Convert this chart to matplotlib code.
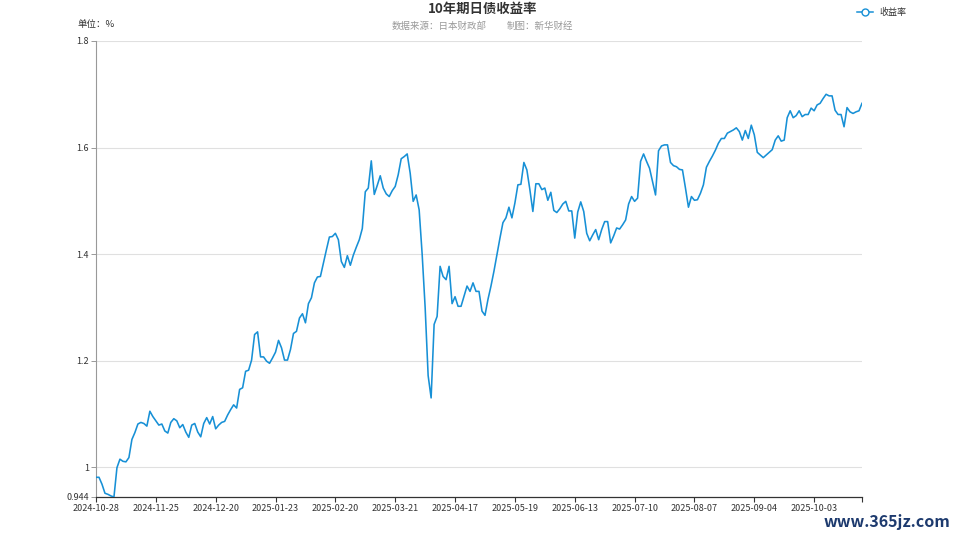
import matplotlib
matplotlib.use('Agg')
import matplotlib.pyplot as plt
import numpy as np

plt.rcParams['font.family'] = ['Noto Sans CJK SC', 'DejaVu Sans']

# ---------------- data ----------------
title = "10年期日债收益率"
subtitle_source = "数据来源：日本财政部"
subtitle_maker = "制图：新华财经"
unit_label = "单位：%"
series_name = "收益率"
watermark = "www.365jz.com"

tick_labels = ["2024-10-28", "2024-11-25", "2024-12-20", "2025-01-23", "2025-02-20",
               "2025-03-21", "2025-04-17", "2025-05-19", "2025-06-13", "2025-07-10",
               "2025-08-07", "2025-09-04", "2025-10-03"]
tick_every = 20

y_ticks = [0.944, 1.0, 1.2, 1.4, 1.6, 1.8]
y_tick_labels = ["0.944", "1", "1.2", "1.4", "1.6", "1.8"]

yield_values = [
    0.981, 0.981, 0.968, 0.951, 0.949, 0.946, 0.944, 0.999, 1.015, 1.011,
    1.010, 1.018, 1.052, 1.065, 1.081, 1.084, 1.082, 1.077, 1.105, 1.095,
    1.087, 1.079, 1.081, 1.068, 1.064, 1.084, 1.091, 1.087, 1.074, 1.080,
    1.066, 1.056, 1.079, 1.082, 1.066, 1.057, 1.082, 1.093, 1.081, 1.095,
    1.072, 1.079, 1.084, 1.086, 1.098, 1.108, 1.117, 1.111, 1.146, 1.149,
    1.180, 1.182, 1.201, 1.249, 1.254, 1.207, 1.207, 1.199, 1.195, 1.205,
    1.216, 1.238, 1.224, 1.201, 1.201, 1.221, 1.251, 1.255, 1.280, 1.288,
    1.271, 1.307, 1.318, 1.346, 1.357, 1.358, 1.383, 1.408, 1.432, 1.433,
    1.439, 1.427, 1.386, 1.375, 1.397, 1.379, 1.398, 1.413, 1.427, 1.448,
    1.517, 1.524, 1.575, 1.512, 1.529, 1.547, 1.524, 1.513, 1.508, 1.519,
    1.527, 1.549, 1.579, 1.583, 1.588, 1.552, 1.499, 1.511, 1.483, 1.400,
    1.300, 1.172, 1.130, 1.268, 1.283, 1.377, 1.358, 1.352, 1.377, 1.307,
    1.320, 1.302, 1.302, 1.321, 1.340, 1.330, 1.346, 1.330, 1.330, 1.293,
    1.285, 1.315, 1.340, 1.368, 1.399, 1.430, 1.459, 1.468, 1.488, 1.468,
    1.496, 1.530, 1.531, 1.572, 1.558, 1.521, 1.480, 1.532, 1.532, 1.521,
    1.524, 1.501, 1.516, 1.482, 1.478, 1.485, 1.494, 1.499, 1.481, 1.481,
    1.430, 1.479, 1.498, 1.480, 1.439, 1.425, 1.436, 1.446, 1.427, 1.446,
    1.461, 1.461, 1.421, 1.434, 1.449, 1.447, 1.455, 1.464, 1.494, 1.508,
    1.499, 1.505, 1.574, 1.588, 1.574, 1.561, 1.536, 1.511, 1.594, 1.603,
    1.605, 1.605, 1.572, 1.566, 1.564, 1.559, 1.558, 1.524, 1.488, 1.508,
    1.501, 1.502, 1.514, 1.530, 1.563, 1.574, 1.584, 1.595, 1.608, 1.617,
    1.617, 1.627, 1.630, 1.633, 1.637, 1.630, 1.614, 1.632, 1.617, 1.642,
    1.624, 1.591, 1.586, 1.581, 1.586, 1.591, 1.596, 1.614, 1.622, 1.612,
    1.614, 1.656, 1.669, 1.656, 1.660, 1.669, 1.658, 1.662, 1.662, 1.674,
    1.669, 1.680, 1.683, 1.692, 1.700, 1.697, 1.697, 1.670, 1.662, 1.662,
    1.639, 1.675, 1.667, 1.664, 1.667, 1.669, 1.683,
]

# ---------------- style ----------------
BLUE = '#1790d6'
GRID = '#e0e0e0'
TXT = '#333333'
SUB = '#999999'

W, H = 958, 539
fig = plt.figure(figsize=(W / 100, H / 100), dpi=100)
fig.patch.set_facecolor('white')

ax = fig.add_axes([96 / W, 1 - 497 / H, (862 - 96) / W, (497 - 41) / H])
x = np.arange(len(yield_values))
ax.plot(x, yield_values, color=BLUE, lw=1.15, solid_joinstyle='round', zorder=3)

ax.set_xlim(0, len(yield_values) - 1)
ax.set_ylim(y_ticks[0], y_ticks[-1])

for v in y_ticks[1:]:
    ax.axhline(v, color=GRID, lw=0.8, zorder=1)

ax.set_yticks(y_ticks)
ax.set_yticklabels(y_tick_labels)
xt = [i * tick_every for i in range(len(tick_labels))] + [len(yield_values) - 1]
ax.set_xticks(xt)
ax.set_xticklabels(tick_labels + [""])

for s in ['top', 'right']:
    ax.spines[s].set_visible(False)
ax.spines['left'].set_color('#999999')
ax.spines['left'].set_linewidth(0.8)
ax.spines['bottom'].set_color('#333333')
ax.spines['bottom'].set_linewidth(0.9)

ax.tick_params(axis='y', direction='out', length=3.5, width=0.7, color='#999999',
               labelsize=6.5, labelcolor=TXT, pad=1.5)
ax.tick_params(axis='x', direction='out', length=3.5, width=0.8, color='#333333',
               labelsize=6.5, labelcolor=TXT, pad=1.5)

# ---------------- texts ----------------
fig.text(483 / W, 1 - 9 / H, title, ha='center', va='center', fontsize=9.6,
         fontweight='bold', color=TXT)
fig.text(487 / W, 1 - 26 / H, subtitle_source, ha='right', va='center', fontsize=6.8,
         color=SUB)
fig.text(507 / W, 1 - 26 / H, subtitle_maker, ha='left', va='center', fontsize=6.8,
         color=SUB)
fig.text(78 / W, 1 - 25 / H, unit_label, ha='left', va='center', fontsize=6.8, color=TXT)

# legend
lx0, lx1, ly = 857, 873, 12
fig.add_artist(plt.Line2D([lx0 / W, lx1 / W], [1 - ly / H, 1 - ly / H],
                          color=BLUE, lw=1.1, transform=fig.transFigure))
fig.add_artist(plt.Line2D([(lx0 + lx1) / 2 / W], [1 - ly / H], marker='o', ms=5,
                          mfc='white', mec=BLUE, mew=1.0, transform=fig.transFigure))
fig.text(879 / W, 1 - ly / H, series_name, ha='left', va='center', fontsize=6.5, color=TXT)

fig.text(950 / W, 1 - 522 / H, watermark, ha='right', va='center', fontsize=11.5,
         fontweight='bold', color='#1d3a6e')

fig.savefig('out.png', dpi=100)
